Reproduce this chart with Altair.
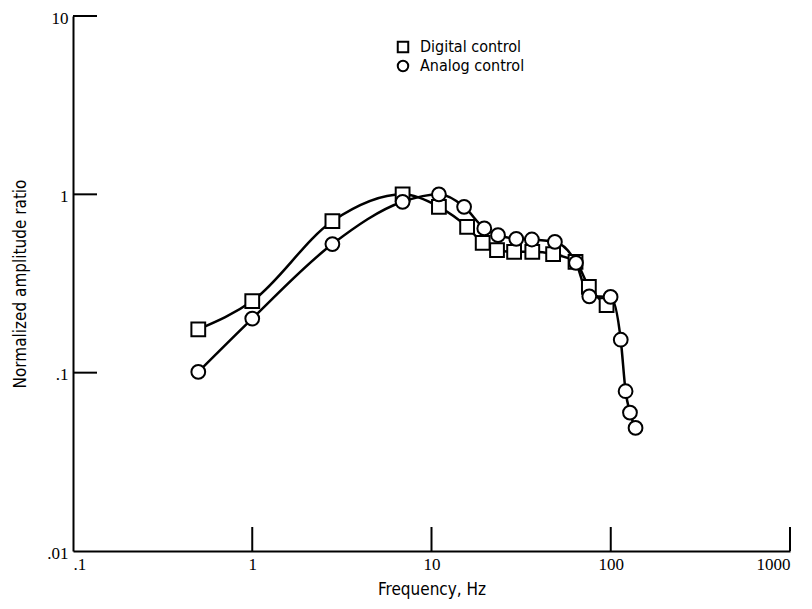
import altair as alt
import pandas as pd

# Digital control (squares)
digital_freq = [0.5, 1, 2.8, 6.9, 11, 15.8, 19.3, 23.2, 28.9, 36.5, 47.7, 63.6, 75.5, 94.8]
digital_amp = [0.175, 0.252, 0.707, 1.0, 0.851, 0.657, 0.534, 0.486, 0.476, 0.476, 0.462, 0.418, 0.303, 0.239]

# Analog control (circles)
analog_freq = [0.5, 1, 2.8, 6.9, 11, 15.2, 19.7, 23.5, 29.7, 36.3, 48.8, 64, 75.9, 99.8, 113.7, 121, 128, 137.5]
analog_amp = [0.101, 0.201, 0.526, 0.908, 1.0, 0.851, 0.644, 0.590, 0.563, 0.558, 0.541, 0.413, 0.268, 0.266, 0.153, 0.0787, 0.0597, 0.049]

series_names = ["Digital control", "Analog control"]
series_shapes = ["square", "circle"]

x_tick_values = [0.1, 1, 10, 100, 1000]
y_tick_values = [0.01, 0.1, 1, 10]
x_inner_ticks = [1, 10, 100, 1000]
y_inner_ticks = [0.1, 1, 10]

df = pd.concat([
    pd.DataFrame({"freq": digital_freq, "amp": digital_amp, "series": series_names[0], "order": range(len(digital_freq))}),
    pd.DataFrame({"freq": analog_freq, "amp": analog_amp, "series": series_names[1], "order": range(len(analog_freq))}),
])

W, H = 717, 535
TICK = 24
LABEL_FONT = "Liberation Serif"
TITLE_FONT = "Liberation Sans Narrow, DejaVu Sans Condensed, Liberation Sans, sans-serif"

xscale = alt.Scale(type="log", domain=[0.1, 1000], nice=False)
yscale = alt.Scale(type="log", domain=[0.01, 10], nice=False)

lab_expr = "datum.value == 0.1 ? '.1' : (datum.value == 0.01 ? '.01' : format(datum.value, 'd'))"

x_axis = alt.Axis(title="Frequency, Hz", values=x_tick_values, labelExpr=lab_expr, ticks=False,
                  grid=False, labelPadding=5, titlePadding=9)
y_axis = alt.Axis(title="Normalized amplitude ratio", values=y_tick_values, labelExpr=lab_expr, ticks=False,
                  grid=False, labelPadding=5, titlePadding=17, labelOffset=2)
x_enc = alt.X("freq:Q", scale=xscale, axis=x_axis)
y_enc = alt.Y("amp:Q", scale=yscale, axis=y_axis)

legend = alt.Legend(title=None, orient="none", legendX=322, legendY=23,
                    symbolFillColor="white", symbolStrokeWidth=2, symbolSize=110,
                    labelFontSize=16, labelFont=TITLE_FONT, labelColor="black",
                    rowPadding=-1, symbolOpacity=1, labelOffset=9)

lines = alt.Chart(df).mark_line(interpolate="monotone", color="black", strokeWidth=2.5).encode(
    x=x_enc, y=y_enc, detail="series:N", order="order:Q")

points = alt.Chart(df).mark_point(filled=False, fill="white", strokeWidth=2, size=190, opacity=1,
                                  fillOpacity=1).encode(
    x=x_enc, y=y_enc,
    shape=alt.Shape("series:N", scale=alt.Scale(domain=series_names, range=series_shapes), legend=legend),
    color=alt.Color("series:N", scale=alt.Scale(domain=series_names, range=["black", "black"]), legend=legend),
)

xt = alt.Chart(pd.DataFrame({"freq": x_inner_ticks})).mark_rule(color="black", strokeWidth=2).encode(
    x=x_enc, y=alt.value(H), y2=alt.value(H - TICK))
yt = alt.Chart(pd.DataFrame({"amp": y_inner_ticks})).mark_rule(color="black", strokeWidth=2).encode(
    y=y_enc, x=alt.value(0), x2=alt.value(TICK))

chart = alt.layer(lines, points, xt, yt).properties(
    width=W, height=H,
    autosize=alt.AutoSizeParams(type="none"),
    padding={"left": 65, "top": 8, "right": 8, "bottom": 56},
).configure_view(stroke=None).configure_axis(
    domainColor="black", domainWidth=2, labelColor="black", labelFont=LABEL_FONT,
    labelFontSize=17, titleFont=TITLE_FONT, titleFontSize=17, titleColor="black",
    titleFontWeight="normal",
)

chart.save("out.html", embed_options={"renderer": "svg", "actions": False})
